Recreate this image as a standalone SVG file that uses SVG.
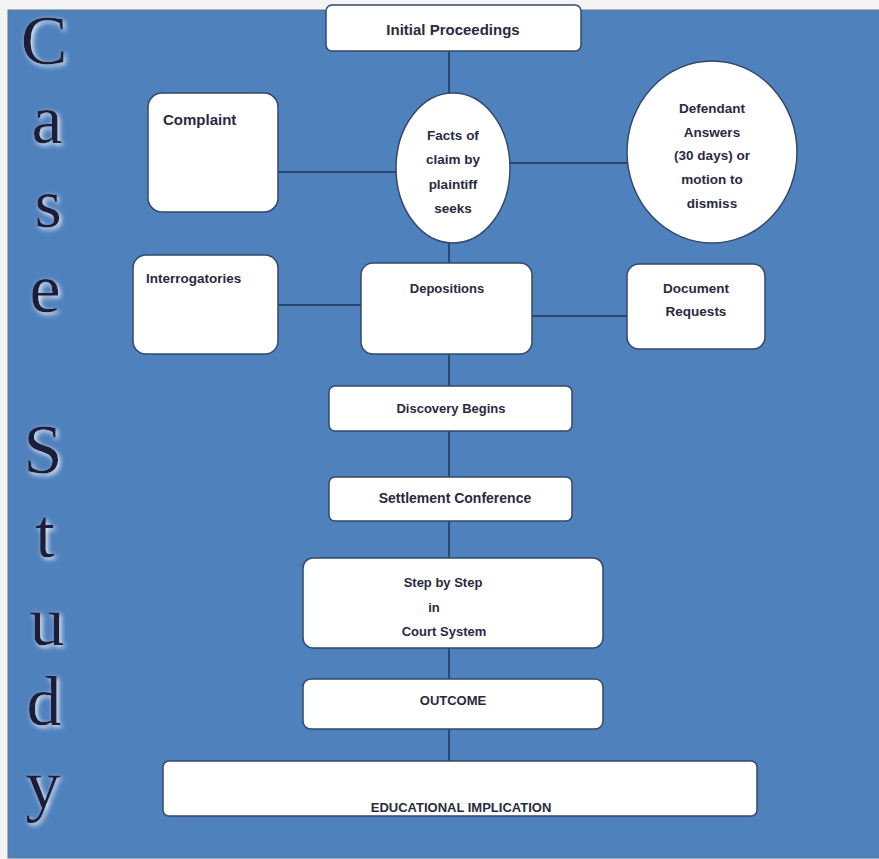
<svg xmlns="http://www.w3.org/2000/svg" width="879" height="859" viewBox="0 0 879 859">
<style>
.box{fill:#ffffff;stroke:#34486b;stroke-width:1.5}
.conn{stroke:#1c3458;stroke-width:1.5;fill:none}
.t{font-family:"Liberation Sans",Arial,sans-serif;font-weight:bold;fill:#2a2a3e;font-size:13px}
.tm{text-anchor:middle}
.big{font-family:"Liberation Serif","Times New Roman",serif;font-size:70px;fill:#1b1b3a;text-anchor:middle}
</style>
<defs>
<filter id="glow" x="-40%" y="-40%" width="180%" height="180%">
<feGaussianBlur in="SourceAlpha" stdDeviation="2.5" result="b"/>
<feOffset in="b" dx="2" dy="2" result="o"/>
<feFlood flood-color="#eef2f8"/>
<feComposite in2="o" operator="in" result="s"/>
<feMerge><feMergeNode in="s"/><feMergeNode in="SourceGraphic"/></feMerge>
</filter>
</defs>
<rect x="0" y="0" width="879" height="859" fill="#f4f4f4"/>
<rect x="8" y="10" width="872" height="848" fill="#4f81bd" stroke="#5f7394" stroke-width="1"/>

<g id="title-letters" filter="url(#glow)">
<text class="big" x="44" y="64">C</text>
<text class="big" x="47" y="143">a</text>
<text class="big" x="48" y="227">s</text>
<text class="big" x="45" y="312">e</text>
<text class="big" x="43" y="473">S</text>
<text class="big" x="45" y="557">t</text>
<text class="big" x="47" y="645">u</text>
<text class="big" x="44" y="725">d</text>
<text class="big" x="43" y="808">y</text>
</g>

<g id="connectors">
<line class="conn" x1="449" y1="51" x2="449" y2="93"/>
<line class="conn" x1="278" y1="172" x2="396" y2="172"/>
<line class="conn" x1="510" y1="163" x2="628" y2="163"/>
<line class="conn" x1="449" y1="243" x2="449" y2="263"/>
<line class="conn" x1="278" y1="305" x2="361" y2="305"/>
<line class="conn" x1="532" y1="316" x2="627" y2="316"/>
<line class="conn" x1="449" y1="354" x2="449" y2="386"/>
<line class="conn" x1="449" y1="431" x2="449" y2="477"/>
<line class="conn" x1="449" y1="521" x2="449" y2="558"/>
<line class="conn" x1="449" y1="648" x2="449" y2="679"/>
<line class="conn" x1="449" y1="729" x2="449" y2="761"/>
</g>

<g id="initial-proceedings">
<rect class="box" x="326" y="5" width="255" height="46" rx="6"/>
<text class="t tm" x="453" y="35" style="font-size:15px">Initial Proceedings</text>
</g>

<g id="complaint">
<rect class="box" x="148" y="93" width="130" height="119" rx="14"/>
<text class="t" x="163" y="125" style="font-size:15px">Complaint</text>
</g>

<g id="facts">
<ellipse class="box" cx="453" cy="168" rx="57" ry="75"/>
<text class="t tm" x="453" y="140" style="font-size:13.5px">Facts of</text>
<text class="t tm" x="453" y="164" style="font-size:13.5px">claim by</text>
<text class="t tm" x="453" y="189" style="font-size:13.5px">plaintiff</text>
<text class="t tm" x="453" y="213" style="font-size:13.5px">seeks</text>
</g>

<g id="defendant">
<ellipse class="box" cx="712" cy="152" rx="85" ry="91"/>
<text class="t tm" x="712" y="113" style="font-size:13.5px">Defendant</text>
<text class="t tm" x="712" y="137" style="font-size:13.5px">Answers</text>
<text class="t tm" x="712" y="160" style="font-size:13.5px">(30 days) or</text>
<text class="t tm" x="712" y="184" style="font-size:13.5px">motion to</text>
<text class="t tm" x="712" y="208" style="font-size:13.5px">dismiss</text>
</g>

<g id="interrogatories">
<rect class="box" x="133" y="255" width="145" height="99" rx="13"/>
<text class="t" x="146" y="283" style="font-size:13.5px">Interrogatories</text>
</g>

<g id="depositions">
<rect class="box" x="361" y="263" width="171" height="91" rx="12"/>
<text class="t tm" x="447" y="293">Depositions</text>
</g>

<g id="document-requests">
<rect class="box" x="627" y="264" width="138" height="85" rx="12"/>
<text class="t tm" x="696" y="293" style="font-size:13.5px">Document</text>
<text class="t tm" x="696" y="316" style="font-size:13.5px">Requests</text>
</g>

<g id="discovery-begins">
<rect class="box" x="329" y="386" width="243" height="45" rx="6"/>
<text class="t tm" x="451" y="413">Discovery Begins</text>
</g>

<g id="settlement-conference">
<rect class="box" x="329" y="477" width="243" height="44" rx="6"/>
<text class="t tm" x="455" y="503" style="font-size:14px">Settlement Conference</text>
</g>

<g id="step-by-step">
<rect class="box" x="303" y="558" width="300" height="90" rx="10"/>
<text class="t tm" x="443" y="587">Step by Step</text>
<text class="t tm" x="434" y="612">in</text>
<text class="t tm" x="444" y="636">Court System</text>
</g>

<g id="outcome">
<rect class="box" x="303" y="679" width="300" height="50" rx="8"/>
<text class="t tm" x="453" y="705">OUTCOME</text>
</g>

<g id="educational-implication">
<rect class="box" x="163" y="761" width="594" height="55" rx="6"/>
<text class="t tm" x="461" y="812">EDUCATIONAL IMPLICATION</text>
</g>
</svg>
